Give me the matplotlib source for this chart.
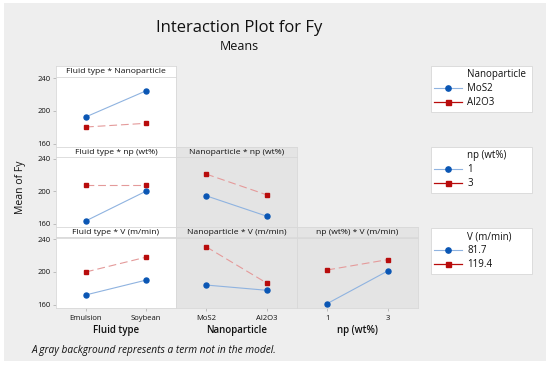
import matplotlib
matplotlib.use("Agg")
import matplotlib.pyplot as plt
from matplotlib.lines import Line2D
from matplotlib.patches import Rectangle

plt.rcParams['font.family'] = ['Open Sans', 'DejaVu Sans']

# ---- data ----
fluid_levels = ["Emulsion", "Soybean"]
nano_levels = ["MoS2", "Al2O3"]
np_levels = ["1", "3"]
v_levels = ["81.7", "119.4"]

# Fluid type * Nanoparticle
ft_nano_mos2 = [192.8, 224.5]
ft_nano_al2o3 = [180.4, 184.9]
# Fluid type * np
ft_np_1 = [163.6, 200.0]
ft_np_3 = [208.0, 208.0]
# Nanoparticle * np
nano_np_1 = [194.3, 169.3]
nano_np_3 = [221.0, 195.5]
# Fluid type * V
ft_v_817 = [172.0, 190.0]
ft_v_1194 = [200.0, 218.0]
# Nanoparticle * V
nano_v_817 = [184.0, 177.6]
nano_v_1194 = [230.6, 186.4]
# np * V
np_v_817 = [161.4, 201.2]
np_v_1194 = [202.4, 215.0]

yticks = [160, 200, 240]

W, H = 550, 367
fig = plt.figure(figsize=(5.5, 3.67), dpi=100)
fig.patch.set_facecolor("white")

def fx(x):
    return x / W

def fy(y):
    return 1 - y / H

outer_bg = "#eeeeee"
gray_bg = "#e4e4e4"
blue = "#0a56b4"
blue_line = "#8fb3e0"
red = "#b80c0c"
red_line = "#e49a9a"
txt = "#111111"

fig.patches.append(Rectangle((fx(4), fy(361)), fx(542), 358 / H, transform=fig.transFigure,
                             facecolor=outer_bg, edgecolor="none", zorder=-10))

fig.text(fx(239), fy(28), "Interaction Plot for Fy", ha="center", va="center", fontsize=12,
         fontweight="medium", color=txt)
fig.text(fx(239), fy(46), "Means", ha="center", va="center", fontsize=9, fontweight="medium",
         color=txt)

cols = [(56, 176), (176, 297), (297, 418)]
rows = [(66, 76.5, 147), (147, 157, 227), (227, 237.5, 308)]

panels = {
    (0, 0): ("Fluid type * Nanoparticle", ft_nano_mos2, ft_nano_al2o3, True),
    (1, 0): ("Fluid type * np (wt%)", ft_np_1, ft_np_3, True),
    (1, 1): ("Nanoparticle * np (wt%)", nano_np_1, nano_np_3, False),
    (2, 0): ("Fluid type * V (m/min)", ft_v_817, ft_v_1194, True),
    (2, 1): ("Nanoparticle * V (m/min)", nano_v_817, nano_v_1194, False),
    (2, 2): ("np (wt%) * V (m/min)", np_v_817, np_v_1194, False),
}
xlevels = [fluid_levels, nano_levels, np_levels]

for (r, c), (title, s1, s2, inmodel) in panels.items():
    x0, x1 = cols[c]
    st, pt, pb = rows[r]
    bg = "white" if inmodel else gray_bg
    # strip
    sax = fig.add_axes([fx(x0), fy(pt), fx(x1 - x0), (pt - st) / H])
    sax.set_facecolor(bg)
    sax.set_xticks([]); sax.set_yticks([])
    for sp in sax.spines.values():
        sp.set_color("#d8d8d8"); sp.set_linewidth(0.6)
    sax.text(0.5, 0.45, title, ha="center", va="center", fontsize=6.1, fontweight="medium",
             color=txt, transform=sax.transAxes)
    # plot
    ax = fig.add_axes([fx(x0), fy(pb), fx(x1 - x0), (pb - pt) / H])
    ax.set_facecolor(bg)
    xs = [0, 1]
    ax.plot(xs, s1, color=blue_line, lw=0.8, zorder=2)
    ax.plot(xs, s1, ls="none", marker="o", ms=3.6, color=blue, zorder=3)
    ax.plot(xs, s2, color=red_line, lw=0.8, dashes=(7, 3.5), zorder=2)
    ax.plot(xs, s2, ls="none", marker="s", ms=3.4, color=red, zorder=3)
    ax.set_xlim(-0.5, 1.5)
    ax.set_ylim(156, 242)
    for sp in ax.spines.values():
        sp.set_color("#d8d8d8"); sp.set_linewidth(0.6)
    ax.tick_params(length=2, width=0.5, color="#aaaaaa", labelsize=5.5, labelcolor=txt, pad=2)
    if c == 0:
        ax.set_yticks(yticks)
        ax.set_yticklabels([str(v) for v in yticks])
    else:
        ax.set_yticks([])
    if r == 2:
        ax.set_xticks(xs)
        ax.set_xticklabels(xlevels[c])
        ax.tick_params(axis="x", pad=3)
    else:
        ax.set_xticks([])

# column axis labels
for c, lab in enumerate(["Fluid type", "Nanoparticle", "np (wt%)"]):
    x0, x1 = cols[c]
    fig.text(fx((x0 + x1) / 2), fy(331), lab, ha="center", va="center", fontsize=7,
             fontweight="semibold", color=txt)

fig.text(fx(20), fy(187), "Mean of Fy", rotation=90, ha="center", va="center", fontsize=7.5,
         color=txt)

fig.text(fx(32), fy(350), "A gray background represents a term not in the model.", ha="left",
         va="center", fontsize=7.3, style="italic", color=txt)

# legends
legend_info = [
    ("Nanoparticle", nano_levels, 66),
    ("np (wt%)", np_levels, 147),
    ("V (m/min)", v_levels, 228),
]
for title, labels, ytop in legend_info:
    handles = [
        Line2D([], [], color="none"),
        Line2D([], [], color=blue_line, lw=0.8, marker="o", ms=3.8, mfc=blue, mec=blue),
        Line2D([], [], color=red, lw=0.9, marker="s", ms=3.6, mfc=red, mec=red),
    ]
    leg = fig.legend(handles, [title] + list(labels), loc="upper left",
                     bbox_to_anchor=(fx(431), fy(ytop + 43), fx(101), 43 / H), mode="expand",
                     fontsize=7, frameon=True,
                     fancybox=False, edgecolor="#d8d8d8", facecolor="white",
                     handlelength=2.8, handletextpad=0.6, borderpad=0.35, labelspacing=0.3,
                     borderaxespad=0)
    leg.get_frame().set_linewidth(0.6)
    leg.get_frame().set_alpha(1)
    for t in leg.get_texts():
        t.set_color(txt)

fig.savefig("out.png", dpi=100, facecolor="white")
